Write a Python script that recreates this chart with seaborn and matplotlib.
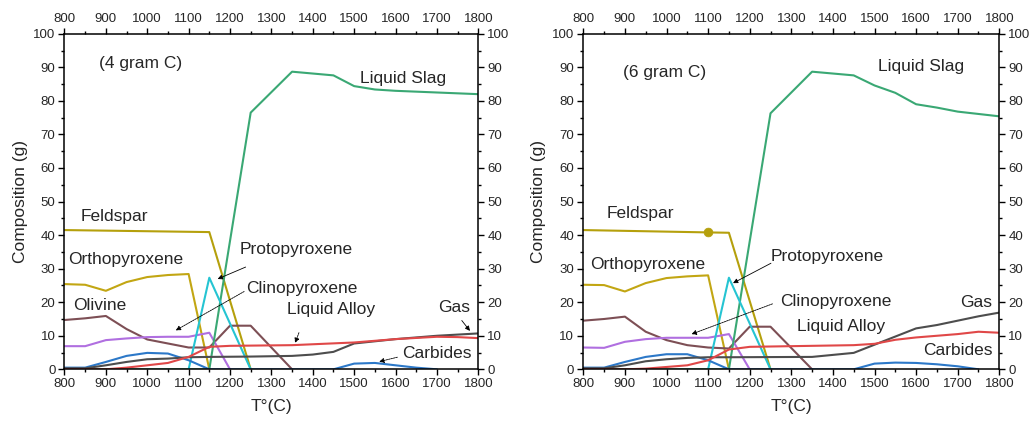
import numpy as np
import pandas as pd
import matplotlib
matplotlib.use("Agg")
import matplotlib.pyplot as plt
import seaborn as sns

# ---------------- data : 4 gram C (left) ----------------
T_feld4 = [800, 1150, 1250]
feld4 = [41.5, 40.9, 0]
T_ortho = [800, 850, 900, 950, 1000, 1050, 1100, 1150]
ortho4 = [25.4, 25.2, 23.4, 26.0, 27.5, 28.1, 28.4, 0]
T_oliv = [800, 850, 900, 950, 1000, 1050, 1100, 1150, 1200, 1250, 1350]
oliv4 = [14.7, 15.2, 15.9, 12.0, 8.9, 7.7, 6.5, 6.5, 13.0, 13.0, 0]
T_clino = [800, 850, 900, 950, 1000, 1050, 1100, 1150, 1200]
clino4 = [6.9, 6.9, 8.7, 9.2, 9.6, 9.7, 9.7, 10.9, 0]
T_proto = [1100, 1150, 1250]
proto4 = [0, 27.3, 0]
T_slag4 = [800, 1150, 1250, 1350, 1450, 1500, 1550, 1600, 1700, 1800]
slag4 = [0, 0, 76.5, 88.7, 87.6, 84.4, 83.4, 83.0, 82.5, 82.0]
T_carb4 = [800, 850, 900, 950, 1000, 1050, 1100, 1150, 1450, 1500, 1550, 1600, 1650, 1700]
carb4 = [0.5, 0.5, 2.2, 4.0, 4.9, 4.7, 2.7, 0, 0, 1.7, 1.9, 1.2, 0.5, 0]
T_gas4 = [800, 850, 900, 950, 1000, 1050, 1100, 1150, 1250, 1350, 1400, 1450, 1500, 1600, 1700, 1800]
gas4 = [0.3, 0.3, 1.2, 2.2, 3.0, 3.2, 3.6, 3.7, 3.8, 4.0, 4.4, 5.2, 7.7, 9.0, 10.0, 10.7]
T_alloy4 = [800, 900, 950, 1000, 1050, 1100, 1150, 1200, 1350, 1500, 1600, 1700, 1750, 1800]
alloy4 = [0, 0, 0.5, 1.2, 1.9, 3.7, 6.7, 7.0, 7.2, 8.0, 9.0, 9.7, 9.6, 9.3]

# ---------------- data : 6 gram C (right) ----------------
T_feld6 = [800, 1100, 1150, 1250]
feld6 = [41.5, 40.8, 40.7, 0]
ortho6 = [25.2, 25.1, 23.2, 25.7, 27.2, 27.7, 28.0, 0]
oliv6 = [14.5, 15.0, 15.7, 11.2, 8.7, 7.2, 6.5, 6.2, 12.7, 12.7, 0]
clino6 = [6.5, 6.4, 8.2, 9.0, 9.4, 9.4, 9.4, 10.5, 0]
proto6 = [0, 27.3, 0]
T_slag6 = [800, 1150, 1250, 1350, 1450, 1500, 1550, 1600, 1650, 1700, 1800]
slag6 = [0, 0, 76.3, 88.7, 87.6, 84.6, 82.4, 79.0, 78.0, 76.8, 75.4]
T_carb6 = [800, 850, 900, 950, 1000, 1050, 1100, 1150, 1450, 1500, 1550, 1600, 1650, 1700, 1750]
carb6 = [0.5, 0.5, 2.2, 3.7, 4.5, 4.5, 2.7, 0, 0, 1.7, 2.0, 1.9, 1.5, 0.9, 0]
T_gas6 = [800, 850, 900, 950, 1000, 1050, 1100, 1150, 1350, 1450, 1600, 1650, 1750, 1800]
gas6 = [0.3, 0.3, 1.2, 2.4, 3.0, 3.4, 3.6, 3.6, 3.7, 4.9, 12.2, 13.2, 15.8, 16.9]
T_alloy6 = [800, 900, 950, 1000, 1050, 1100, 1150, 1200, 1450, 1500, 1550, 1600, 1700, 1750, 1800]
alloy6 = [0, 0, 0.2, 0.7, 1.2, 2.7, 5.9, 6.7, 7.2, 7.6, 8.8, 9.5, 10.5, 11.2, 10.9]

feld_marker6 = (1100, 40.8)

colors = {
    "Feldspar": "#b5a00c",
    "Orthopyroxene": "#c2a613",
    "Olivine": "#7d4f55",
    "Clinopyroxene": "#b06fe0",
    "Protopyroxene": "#25c4d2",
    "Liquid Slag": "#3aa874",
    "Carbides": "#2c78c8",
    "Gas": "#4d4d4d",
    "Liquid Alloy": "#e04848",
}

sns.set_theme(style="ticks")
plt.rcParams["font.family"] = ["Liberation Sans", "DejaVu Sans"]

fig = plt.figure(figsize=(10.35, 4.28), dpi=100)
axL = fig.add_axes([0.0623, 0.1371, 0.3998, 0.784])
axR = fig.add_axes([0.5636, 0.1371, 0.4019, 0.784])

panels = [
    (axL, [
        ("Feldspar", T_feld4, feld4), ("Orthopyroxene", T_ortho, ortho4),
        ("Olivine", T_oliv, oliv4), ("Clinopyroxene", T_clino, clino4),
        ("Liquid Slag", T_slag4, slag4), ("Protopyroxene", T_proto, proto4),
        ("Carbides", T_carb4, carb4), ("Gas", T_gas4, gas4),
        ("Liquid Alloy", T_alloy4, alloy4)]),
    (axR, [
        ("Feldspar", T_feld6, feld6), ("Orthopyroxene", T_ortho, ortho6),
        ("Olivine", T_oliv, oliv6), ("Clinopyroxene", T_clino, clino6),
        ("Liquid Slag", T_slag6, slag6), ("Protopyroxene", T_proto, proto6),
        ("Carbides", T_carb6, carb6), ("Gas", T_gas6, gas6),
        ("Liquid Alloy", T_alloy6, alloy6)]),
]

for ax, series in panels:
    for name, xs, ys in series:
        sns.lineplot(x=xs, y=ys, ax=ax, color=colors[name], lw=1.5,
                     estimator=None, sort=False, legend=False)
    ax.set_xlim(800, 1800)
    ax.set_ylim(0, 100)
    ax.set_xticks(np.arange(800, 1801, 100))
    ax.set_xticks(np.arange(850, 1800, 100), minor=True)
    ax.set_yticks(np.arange(0, 101, 10))
    ax.set_yticks(np.arange(5, 100, 10), minor=True)
    ax.tick_params(which="both", direction="out", top=True, right=True,
                   labeltop=True, labelright=True, color="black")
    ax.tick_params(which="major", length=4.5, width=1, labelsize=9.5, pad=2)
    ax.tick_params(which="minor", length=2.5, width=1)
    for sp in ax.spines.values():
        sp.set_color("black")
        sp.set_linewidth(1.1)
        sp.set_visible(True)
    ax.set_xlabel("T°(C)", fontsize=12.5, labelpad=6)
    ax.set_ylabel("Composition (g)", fontsize=12.5, labelpad=4)

fs = 12.5
arrow = dict(arrowstyle="-|>", color="black", lw=0.6, mutation_scale=7)
arrow_d = dict(arrowstyle="-|>", color="black", lw=0.6, mutation_scale=7, ls=(0, (2, 1)))

# left labels
axL.text(884, 91.0, "(4 gram C)", fontsize=fs, va="center")
axL.text(1514, 86.7, "Liquid Slag", fontsize=fs, va="center")
axL.text(839, 45.5, "Feldspar", fontsize=fs, va="center")
axL.text(809, 32.6, "Orthopyroxene", fontsize=fs, va="center")
axL.text(820, 18.9, "Olivine", fontsize=fs, va="center")
axL.text(1224, 35.8, "Protopyroxene", fontsize=fs, va="center")
axL.text(1239, 24.1, "Clinopyroxene", fontsize=fs, va="center")
axL.text(1337, 17.9, "Liquid Alloy", fontsize=fs, va="center")
axL.text(1703, 18.5, "Gas", fontsize=fs, va="center")
axL.text(1615, 4.8, "Carbides", fontsize=fs, va="center")
axL.annotate("", xy=(1164, 26.6), xytext=(1244, 30.8), arrowprops=arrow)
axL.annotate("", xy=(1063, 11.2), xytext=(1240, 23.6), arrowprops=arrow_d)
axL.annotate("", xy=(1355, 7.1), xytext=(1369, 11.7), arrowprops=arrow_d)
axL.annotate("", xy=(1784, 10.8), xytext=(1756, 15.2), arrowprops=arrow)
axL.annotate("", xy=(1554, 2.1), xytext=(1611, 3.8), arrowprops=arrow_d)

# right labels
axR.text(896, 88.5, "(6 gram C)", fontsize=fs, va="center")
axR.text(1509, 90.2, "Liquid Slag", fontsize=fs, va="center")
axR.text(856, 46.5, "Feldspar", fontsize=fs, va="center")
axR.text(816, 31.3, "Orthopyroxene", fontsize=fs, va="center")
axR.text(1250, 33.6, "Protopyroxene", fontsize=fs, va="center")
axR.text(1274, 20.1, "Clinopyroxene", fontsize=fs, va="center")
axR.text(1314, 12.7, "Liquid Alloy", fontsize=fs, va="center")
axR.text(1706, 19.8, "Gas", fontsize=fs, va="center")
axR.text(1616, 5.5, "Carbides", fontsize=fs, va="center")
axR.annotate("", xy=(1154, 25.3), xytext=(1257, 32.0), arrowprops=arrow)
axR.annotate("", xy=(1054, 10.2), xytext=(1261, 19.8), arrowprops=arrow_d)
sns.scatterplot(x=[feld_marker6[0]], y=[feld_marker6[1]], ax=axR,
                color=colors["Feldspar"], s=40, edgecolor=colors["Feldspar"],
                zorder=5, legend=False)

fig.savefig("out.png", dpi=100)
